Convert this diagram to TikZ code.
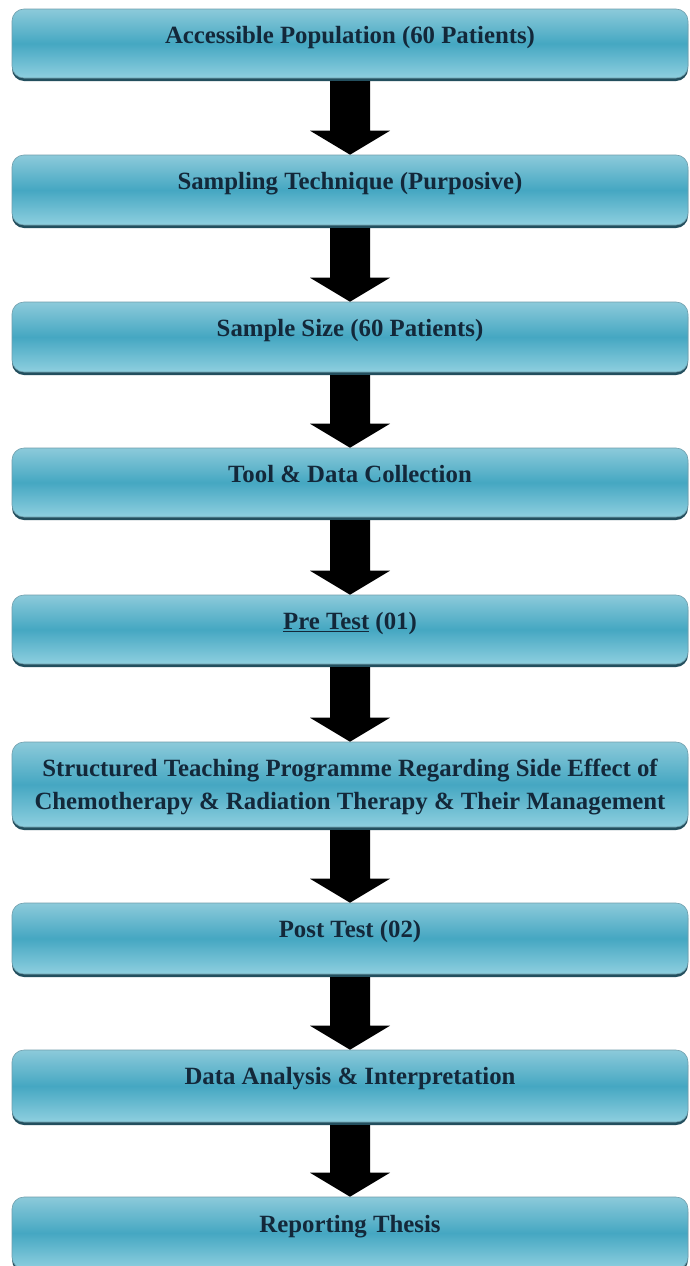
\documentclass[tikz,border=0pt]{standalone}
\usepackage{fontspec}
\setmainfont{Liberation Serif}
\usetikzlibrary{calc}
\definecolor{boxtop}{HTML}{8CCADA}
\definecolor{boxmid}{HTML}{45A7C2}
\definecolor{boxbot}{HTML}{8ECFDF}
\definecolor{boxedge}{HTML}{234F5E}
\definecolor{boxline}{HTML}{6F9EAC}
\definecolor{txtcol}{HTML}{13283A}
\tikzset{
  flowbox/.style={rectangle, rounded corners=12pt, minimum width=676pt, inner sep=0pt,
    top color=boxtop, bottom color=boxbot, middle color=boxmid, draw=boxline, line width=0.6pt},
  flowshadow/.style={rectangle, rounded corners=12pt, minimum width=676pt, inner sep=0pt, fill=boxedge},
  flowtext/.style={anchor=base, text=txtcol, font=\fontsize{24.8}{33}\selectfont\bfseries, inner sep=0pt},
  flowhead/.style={fill=black}
}
% arrow from shadow node #1 to box node #2
\newcommand{\myflowarrow}[2]{%
  \fill[flowhead] ($(#1.south)+(-20pt,0)$) -- ($(#2.north)+(-20pt,24pt)$) -- ($(#2.north)+(-40pt,24pt)$)
    -- (#2.north) -- ($(#2.north)+(40pt,24pt)$) -- ($(#2.north)+(20pt,24pt)$)
    -- ($(#1.south)+(20pt,0)$) -- cycle;}
% box: name, top, bottom
\newcommand{\myflowbox}[3]{%
  \pgfmathsetmacro{\hh}{#3-#2-3}%
  \pgfmathsetmacro{\cc}{(#2+#3-3)/2}%
  \node[flowshadow, minimum height=\hh pt] (s#1) at (350pt,-\cc pt-3pt) {};
  \node[flowbox, minimum height=\hh pt] (b#1) at (350pt,-\cc pt) {};}
\begin{document}
\begin{tikzpicture}
\useasboundingbox (0,0) rectangle (689pt,-1266pt);
\fill[white] (0,0) rectangle (689pt,-1266pt);
\myflowbox{1}{9}{81}
\myflowbox{2}{155}{228}
\myflowbox{3}{302}{375}
\myflowbox{4}{448}{520}
\myflowbox{5}{595}{667}
\myflowbox{6}{742}{830}
\myflowbox{7}{903}{977}
\myflowbox{8}{1050}{1125}
\myflowbox{9}{1197}{1272}
\node[flowtext] (t1) at ($(b1.north)+(0,-35pt)$) {Accessible Population (60 Patients)};
\node[flowtext] (t2) at ($(b2.north)+(0,-35pt)$) {Sampling Technique (Purposive)};
\node[flowtext] (t3) at ($(b3.north)+(0,-35pt)$) {Sample Size (60 Patients)};
\node[flowtext] (t4) at ($(b4.north)+(0,-35pt)$) {Tool \& Data Collection};
\node[flowtext] (t5) at ($(b5.north)+(0,-35pt)$) {\underline{Pre Test} (01)};
\node[flowtext] (t6a) at ($(b6.north)+(0,-35pt)$) {Structured Teaching Programme Regarding Side Effect of};
\node[flowtext] (t6b) at ($(b6.north)+(0,-68pt)$) {Chemotherapy \& Radiation Therapy \& Their Management};
\node[flowtext] (t7) at ($(b7.north)+(0,-35pt)$) {Post Test (02)};
\node[flowtext] (t8) at ($(b8.north)+(0,-35pt)$) {Data Analysis \& Interpretation};
\node[flowtext] (t9) at ($(b9.north)+(0,-36pt)$) {Reporting Thesis};
\myflowarrow{s1}{b2}
\myflowarrow{s2}{b3}
\myflowarrow{s3}{b4}
\myflowarrow{s4}{b5}
\myflowarrow{s5}{b6}
\myflowarrow{s6}{b7}
\myflowarrow{s7}{b8}
\myflowarrow{s8}{b9}
\end{tikzpicture}
\end{document}
